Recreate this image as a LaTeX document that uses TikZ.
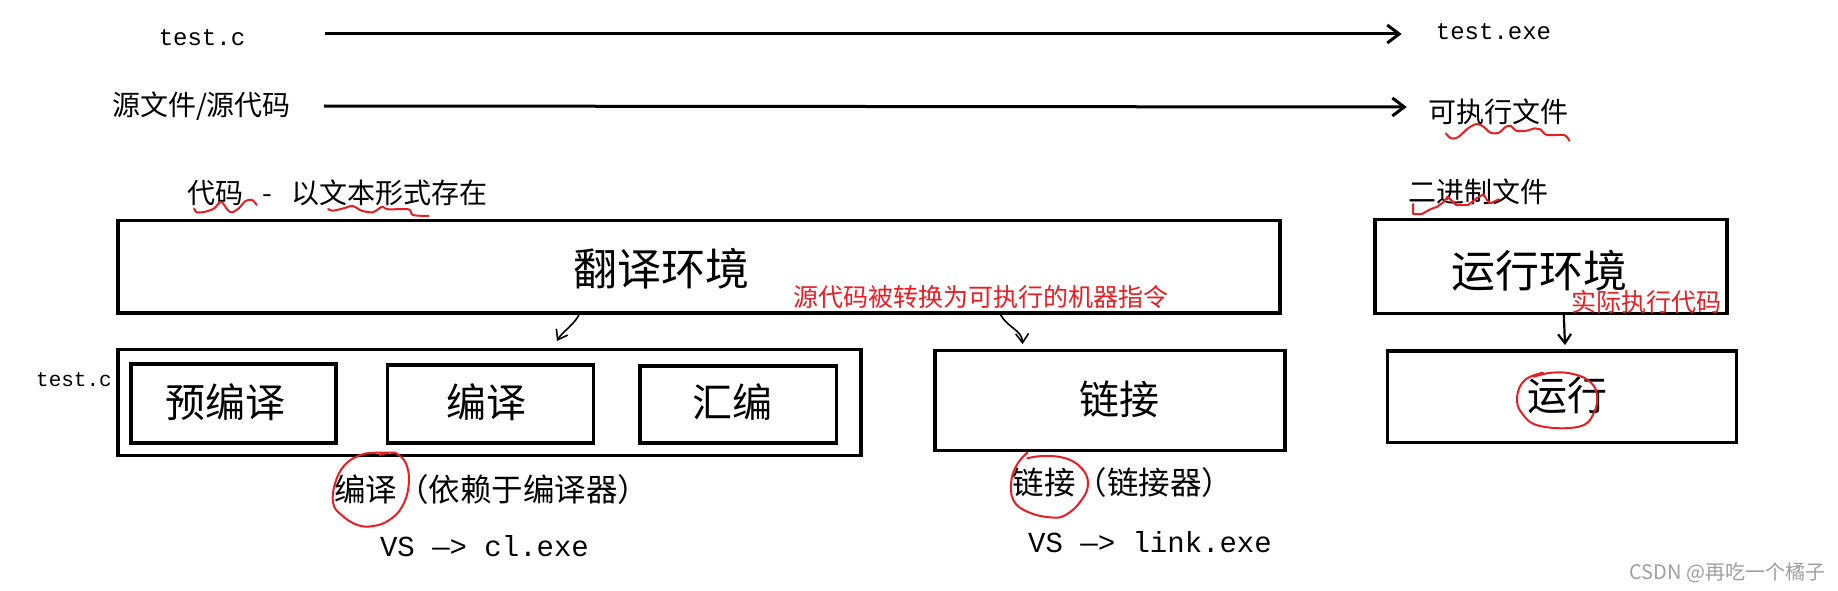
\documentclass[tikz,border=0pt]{standalone}
\usepackage{fontspec}
\setmainfont{Noto Sans CJK SC}
\newfontfamily\monof{Liberation Mono}
\usetikzlibrary{arrows.meta}
\definecolor{redink}{RGB}{232,30,36}
\begin{document}
\begin{tikzpicture}[x=1pt,y=-1pt,
  box/.style={draw, line width=3.5pt, inner sep=0pt},
  txt/.style={inner sep=0pt, anchor=center},
  lbl/.style={txt, font=\fontsize{28}{32}\selectfont},
  big/.style={txt, font=\fontsize{44}{50}\selectfont},
  mid/.style={txt, font=\fontsize{40}{46}\selectfont},
  redt/.style={txt, text=redink, font=\fontsize{25}{30}\selectfont},
  bot/.style={txt, font=\fontsize{31.5}{36}\selectfont},
  code/.style={txt, font=\monof\fontsize{24}{28}\selectfont},
  vscode/.style={txt, font=\monof\fontsize{29}{34}\selectfont},
  longarrow/.style={line width=3pt, -{Straight Barb[length=12pt,width=18pt]}},
  hand/.style={line width=1.6pt, -{Straight Barb[length=9pt,width=13pt]}},
  redline/.style={draw=redink, line width=2pt, line join=round, line cap=round}]
\fill[white] (0,0) rectangle (1838,591);
\useasboundingbox (0,0) rectangle (1838,591);

% top labels
\node[code] (tc) at (202,37.7) {test.c};
\node[code] (te) at (1493.5,32) {test.exe};
\node[lbl] (src) at (201.5,106) {源文件/源代码};
\node[lbl] (exe) at (1498.5,112) {可执行文件};
\node[lbl, anchor=west] (codetxt) at (187.5,193) {代码\hspace{19pt}-\hspace{19pt}以文本形式存在};
\node[lbl] (bin) at (1478,192) {二进制文件};

\draw[longarrow] ([xshift=80pt,yshift=3.7pt]tc.east) -- ([xshift=-34pt,yshift=-2pt]te.west);
\draw[longarrow] ([xshift=33pt]src.east) -- ([xshift=-21.5pt,yshift=5pt]exe.west);

% boxes
\node[box, minimum width=1162pt, minimum height=92.5pt] (trans) at (699,266.75) {};
\node[box, minimum width=352pt, minimum height=93.6pt] (runenv) at (1551,266.5) {};
\node[box, minimum width=743pt, minimum height=106pt] (comp) at (489.5,402.5) {};
\node[box, minimum width=205pt, minimum height=79pt] (pre) at (233.5,403.7) {};
\node[box, minimum width=206pt, minimum height=78pt] (cmp) at (490.5,404) {};
\node[box, minimum width=196.5pt, minimum height=77pt] (asm) at (738,404.7) {};
\node[box, minimum width=350pt, minimum height=100pt] (link) at (1110,400.5) {};
\node[box, minimum width=349pt, minimum height=91.5pt] (run) at (1562,396.75) {};

% box texts
\node[big] (transT) at (661.5,269) {翻译环境};
\node[big] (runenvT) at (1539,271) {运行环境};
\node[mid] (preT) at (225,402.5) {预编译};
\node[mid] (cmpT) at (486.5,402) {编译};
\node[mid] (asmT) at (732,402) {汇编};
\node[mid] (linkT) at (1119.5,399.5) {链接};
\node[mid] (runT) at (1567,395) {运行};
\node[redt] (note1) at (980.5,297.5) {源代码被转换为可执行的机器指令};
\node[redt] (note2) at (1646,301.7) {实际执行代码};
\node[code, font=\monof\fontsize{21}{25}\selectfont] (tc2) at (74,380) {test.c};

% bottom texts
\node[bot] (cmpNote) at (491.5,490) {编译（依赖于编译器）};
\node[bot] (linkNote) at (1123,483) {链接（链接器）};
\node[vscode] (vs1) at (484.5,546) {VS —> cl.exe};
\node[vscode] (vs2) at (1150,542) {VS —> link.exe};

% hand-drawn arrows
\draw[hand] ([xshift=-120pt]trans.south) .. controls (574,325) and (562,332) .. ([xshift=67.5pt,yshift=6.75pt]comp.north);
\draw[hand] ([xshift=301.5pt]trans.south) .. controls (1008,328) and (1022,330) .. ([xshift=-87.4pt,yshift=4.75pt]link.north);
\draw[hand, line width=2.2pt] ([xshift=12.8pt]runenv.south) -- ([xshift=3pt,yshift=4.25pt]run.north);

% red annotations
\draw[redline] plot[smooth, tension=0.5] coordinates {(1445.8,133.3) (1450.9,138.3) (1457.8,137.3) (1468.1,128.3) (1476.6,124) (1483.5,126.7) (1490.4,132.7) (1498.9,132.7) (1505.8,126.7) (1510.9,126) (1516.1,130.7) (1526.4,130.7) (1535,128.3) (1540.1,129.3) (1547,135) (1564.1,135) (1569.3,140.7)};
\draw[redline] (1413.2,204) -- (1413.2,214) -- (1421.8,214) -- (1430.3,209.3) -- (1437.2,206.7) -- (1444.1,201.7) -- (1447.5,196.7) -- (1450.9,200) -- (1456.1,205) -- (1468.1,205) -- (1476.6,198.3) -- (1483.5,194.3) -- (1486.9,200) -- (1490.4,203.3) -- (1493.8,201.7) -- (1498.9,199.3);
\draw[redline] plot[smooth, tension=0.5] coordinates {(194.2,208.3) (196.4,212.3) (205.3,211.7) (214.3,208.3) (221,201.7) (227.7,210) (232.1,212.3) (238.8,208.3) (245.5,201) (252.2,200) (256.7,205)};
\draw[redline] plot[smooth, tension=0.5] coordinates {(328.1,209) (332.6,210.7) (343.7,208.3) (352.7,206) (361.6,210.7) (372.7,212.3) (379.4,208.3) (382.6,206.7) (388.4,209.3) (408.5,209.3) (412.9,215) (428.5,216)};
\draw[redline] plot[smooth, tension=0.7] coordinates {(395.7,452.7) (376.6,452.7) (360.6,455) (344.7,465) (335.1,483.3) (333.2,503.3) (341.5,515) (357.4,525) (373.4,526) (389.3,520) (402.1,506.7) (408.5,486.7) (407.2,466.7) (398.9,455) (389.3,452.7) (379.8,455)};
\draw[redline] plot[smooth, tension=0.7] coordinates {(1027.3,452.7) (1017.8,463.3) (1011.4,480) (1013.3,500) (1027.3,511.7) (1049.7,517.3) (1065.6,515) (1081.6,500) (1088,483.3) (1081.6,468.3) (1065.6,458.3) (1043.3,456) (1027.3,458.3)};
\draw[redline] plot[smooth, tension=0.7] coordinates {(1542.9,372.7) (1524.9,380) (1517.1,396.7) (1521.9,413.3) (1539.9,426) (1578.7,426.7) (1593.7,413.3) (1596.7,393.3) (1587.7,380) (1569.8,373.3) (1551.8,372.7) (1539.9,375) (1533.9,376.7)};

% watermark
\node[txt, text=gray!75, font=\fontsize{20}{24}\selectfont] (wm) at (1727.5,573) {CSDN @再吃一个橘子};
\end{tikzpicture}
\end{document}
